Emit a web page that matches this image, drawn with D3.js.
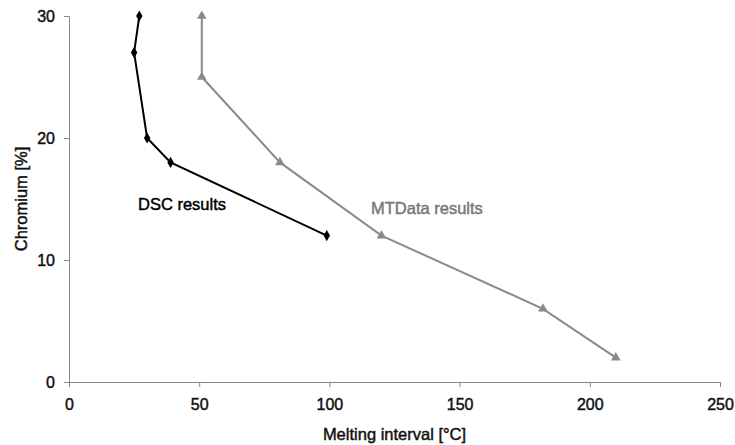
<!DOCTYPE html>
<html>
<head>
<meta charset="utf-8">
<script src="https://cdn.jsdelivr.net/npm/d3@7"></script>
<style>
  body { margin: 0; background: #fff; }
  svg { display: block; font-family: "Liberation Sans", Arial, sans-serif; }
  text { stroke-width: 0.45px; }
</style>
</head>
<body>
<svg width="735" height="445"></svg>
<script>
// melting interval [°C] vs chromium [%]
const dscX = [27, 25, 30, 39, 99];
const dscY = [30, 27, 20, 18, 12];
const mtX = [51, 51, 81, 120, 182, 210];
const mtY = [30, 25, 18, 12, 6, 2];
const xTicks = [0, 50, 100, 150, 200, 250];
const yTicks = [0, 10, 20, 30];

const svg = d3.select('svg');
const plotLeft = 69, plotRight = 720, plotTop = 16, plotBottom = 382;

const x = d3.scaleLinear().domain([0, 250]).range([plotLeft, plotRight]);
const y = d3.scaleLinear().domain([0, 30]).range([plotBottom, plotTop]);

const xAxis = svg.append('g')
  .attr('transform', `translate(0, ${plotBottom})`)
  .call(d3.axisBottom(x).tickValues(xTicks).tickSize(5).tickPadding(12));

const yAxis = svg.append('g')
  .attr('transform', `translate(${plotLeft}, 0)`)
  .call(d3.axisLeft(y).tickValues(yTicks).tickSize(5).tickPadding(9));

[xAxis, yAxis].forEach(a => {
  a.select('.domain').attr('stroke', '#888').attr('stroke-width', 1);
  a.selectAll('.tick line').attr('stroke', '#888');
  a.selectAll('.tick text')
    .attr('fill', '#111')
    .attr('stroke', '#111')
    .style('font-size', '16px')
    .style('font-family', '"Liberation Sans", Arial, sans-serif');
});

svg.append('text')
  .attr('x', (plotLeft + plotRight) / 2)
  .attr('y', 440)
  .attr('text-anchor', 'middle')
  .attr('fill', '#111')
  .attr('stroke', '#111')
  .style('font-size', '16.5px')
  .text('Melting interval [°C]');

svg.append('text')
  .attr('transform', `translate(27, ${(plotTop + plotBottom) / 2}) rotate(-90)`)
  .attr('text-anchor', 'middle')
  .attr('fill', '#111')
  .attr('stroke', '#111')
  .style('font-size', '16.5px')
  .text('Chromium [%]');

const line = d3.line().x(d => x(d[0])).y(d => y(d[1]));

const dsc = dscX.map((v, i) => [v, dscY[i]]);
const mt = mtX.map((v, i) => [v, mtY[i]]);

svg.append('path')
  .datum(mt)
  .attr('d', line)
  .attr('fill', 'none')
  .attr('stroke', '#8a8a8a')
  .attr('stroke-width', 2);

svg.selectAll('.tri')
  .data(mt)
  .enter()
  .append('path')
  .attr('class', 'tri')
  .attr('d', d3.symbol(d3.symbolTriangle, 40))
  .attr('transform', d => `translate(${x(d[0])}, ${y(d[1])})`)
  .attr('fill', '#8a8a8a');

svg.append('path')
  .datum(dsc)
  .attr('d', line)
  .attr('fill', 'none')
  .attr('stroke', '#000')
  .attr('stroke-width', 2);

svg.selectAll('.dia')
  .data(dsc)
  .enter()
  .append('path')
  .attr('class', 'dia')
  .attr('d', d3.symbol(d3.symbolDiamond, 36))
  .attr('transform', d => `translate(${x(d[0])}, ${y(d[1])})`)
  .attr('fill', '#000');

svg.append('text')
  .attr('x', 138)
  .attr('y', 210)
  .attr('fill', '#000')
  .attr('stroke', '#000')
  .style('font-size', '16.5px')
  .text('DSC results');

svg.append('text')
  .attr('x', 371)
  .attr('y', 214)
  .attr('fill', '#777')
  .attr('stroke', '#777')
  .style('font-size', '16.5px')
  .text('MTData results');
</script>
</body>
</html>
